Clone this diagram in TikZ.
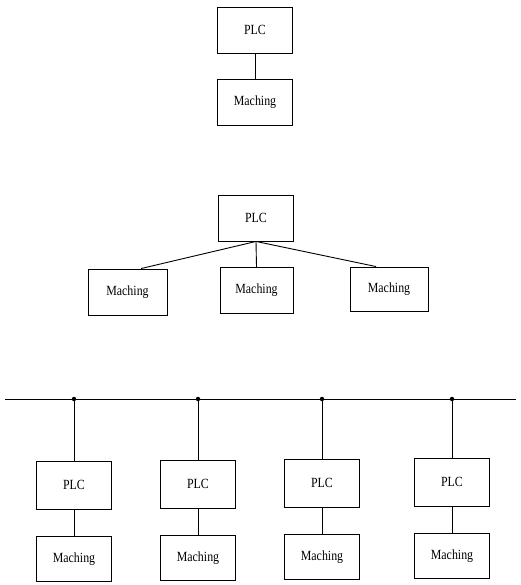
\documentclass[tikz,border=0pt]{standalone}
\usepackage{fontspec}
\setmainfont[FakeStretch=0.85]{Liberation Serif}
\usetikzlibrary{positioning}

\tikzset{
  unit/.style={draw, line width=0.9pt, minimum width=75pt, minimum height=46pt,
    inner sep=0pt, font=\fontsize{14}{16}\selectfont},
  wire/.style={line width=0.9pt},
  tap/.style={circle, fill, inner sep=0pt, minimum size=4.5pt}
}

\begin{document}
\begin{tikzpicture}[x=1pt,y=-1pt]
\useasboundingbox (0,0) rectangle (520,585);
			% one plc, one machine
			\node[unit] (plc) at (255,30) {PLC};
			\node[unit] (mach) at (255,102) {Maching};
			\draw[wire] (plc) -- (mach);

			% one plc, three machines
			\node[unit] (plcb) at (256,218) {PLC};
			\node[unit, minimum width=79pt] (ma) at (127.5,292) {Maching};
			\node[unit, minimum width=73pt] (mb) at (256.5,290.5) {Maching};
			\node[unit, minimum width=78pt, minimum height=44pt] (mc) at (389,289) {Maching};
			\draw[wire] (plcb.south) -- (ma.60);
			\draw[wire] (plcb.south) -- (mb.north);
			\draw[wire] (plcb.south) -- (mc.120);

			% bus with four stations
			\coordinate (busl) at (5,399);
			\coordinate (busr) at (516,399);
			\draw[wire] (busl) -- (busr);
			\foreach \x/\n/\y in {74/1/485, 198/2/484, 322/3/483, 452/4/482}{
				\node[tap] (j\n) at (\x,399) {};
				\node[unit, minimum height=48pt] (p\n) at (\x,\y) {PLC};
				\node[unit, minimum height=45pt] (m\n) at (\x,\y+74) {Maching};
				\draw[wire] (j\n.center) -- (p\n);
				\draw[wire] (p\n) -- (m\n);
			}
\end{tikzpicture}
\end{document}
